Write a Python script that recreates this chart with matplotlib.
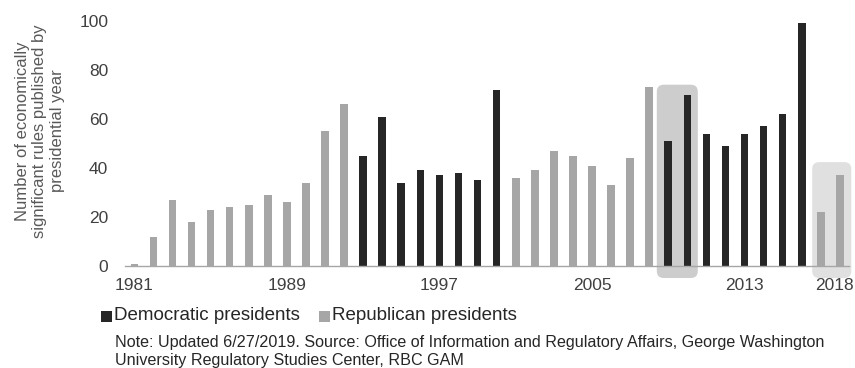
import matplotlib
matplotlib.use("Agg")
import matplotlib.pyplot as plt
from matplotlib.patches import FancyBboxPatch, Rectangle
from matplotlib.transforms import IdentityTransform, ScaledTranslation

plt.rcParams['font.family'] = ['Liberation Sans', 'DejaVu Sans']

years = list(range(1981, 2019))
rules = [1, 12, 27, 18, 23, 24, 25, 29, 26, 34, 55, 66,
         45, 61, 34, 39, 37, 38, 35, 72,
         36, 39, 47, 45, 41, 33, 44, 73,
         51, 70, 54, 49, 54, 57, 62, 99,
         22, 37]
party = (['R'] * 12 + ['D'] * 8 + ['R'] * 8 + ['D'] * 8 + ['R'] * 2)
tick_years = [1981, 1989, 1997, 2005, 2013, 2018]
series_names = ['Democratic presidents', 'Republican presidents']

DEM = '#262626'
REP = '#a6a6a6'
TXT = '#404040'

W, H = 855, 368
fig = plt.figure(figsize=(W / 100, H / 100), dpi=100)
ax = fig.add_axes([124.8 / W, (H - 266) / H, (849.4 - 124.8) / W, (266 - 21) / H])

x = list(range(len(years)))
colors = [DEM if p == 'D' else REP for p in party]
ax.bar(x, rules, width=0.4, color=colors, zorder=3)

ax.set_xlim(-0.5, len(years) - 0.5)
ax.set_ylim(0, 100)
ax.set_yticks(range(0, 101, 20))
ax.set_xticks([years.index(y) for y in tick_years])
ax.set_xticklabels([str(y) for y in tick_years])
ax.tick_params(axis='both', length=0, labelsize=12.5, labelcolor=TXT)
ax.tick_params(axis='y', pad=12)
ax.tick_params(axis='x', pad=9)
# keep the last year label inside the figure edge
last = ax.get_xticklabels()[-1]
last.set_transform(last.get_transform() + ScaledTranslation(-5 / 100, 0, fig.dpi_scale_trans))
for s in ['top', 'right', 'left']:
    ax.spines[s].set_visible(False)
ax.spines['bottom'].set_color('#a6a6a6')
ax.spines['bottom'].set_linewidth(1.0)
ax.spines['bottom'].set_zorder(4)
ax.patch.set_visible(False)

fig.text(40 / W, 1 - 131 / H,
         'Number of economically\nsignificant rules published by\npresidential year',
         rotation=90, ha='center', va='center', fontsize=12, color='#595959',
         linespacing=1.22)

# rounded highlight boxes
fig.canvas.draw()


def highlight(x0, x1, y0, y1, color):
    (px0, py0) = ax.transData.transform((x0, y0))
    (px1, py1) = ax.transData.transform((x1, y1))
    r = 7
    box = FancyBboxPatch((px0 + r, py0 + r), (px1 - px0) - 2 * r, (py1 - py0) - 2 * r,
                         boxstyle='round,pad=%d,rounding_size=%d' % (r, r),
                         transform=IdentityTransform(), facecolor=color,
                         edgecolor='none', zorder=1, clip_on=False)
    ax.add_artist(box)


highlight(27.4, 29.55, -4.9, 74.0, '#cdcdcd')
highlight(35.55, 37.6, -4.9, 42.4, '#e0e0e0')

# legend
for (lx, name, col) in [(101, series_names[0], DEM), (319, series_names[1], REP)]:
    fig.patches.append(Rectangle((lx / W, 1 - 322 / H), 11 / W, 11 / H,
                                 transform=fig.transFigure, facecolor=col,
                                 edgecolor='none'))
    fig.text((lx + 13) / W, 1 - 316 / H, name, ha='left', va='center',
             fontsize=13.5, color='#262626')

fig.text(115 / W, 1 - 342 / H,
         'Note: Updated 6/27/2019. Source: Office of Information and Regulatory Affairs, George Washington',
         ha='left', va='center', fontsize=11.6, color='#262626')
fig.text(115 / W, 1 - 360 / H,
         'University Regulatory Studies Center, RBC GAM',
         ha='left', va='center', fontsize=11.6, color='#262626')

fig.savefig('out.png', dpi=100)
